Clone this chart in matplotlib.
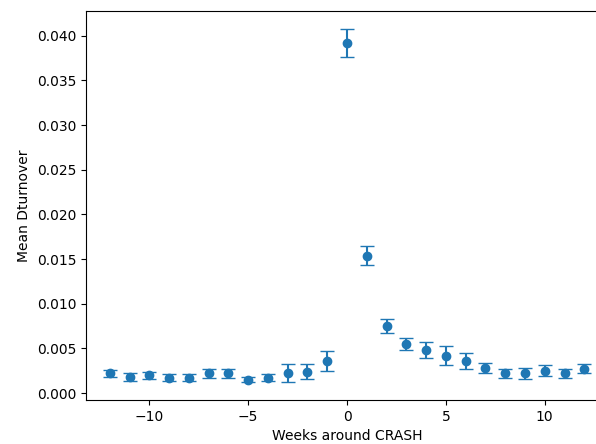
import matplotlib
matplotlib.use("Agg")
import matplotlib.pyplot as plt

weeks = list(range(-12, 13))
mean_dturnover = [0.0022, 0.0018, 0.0020, 0.0017, 0.0017, 0.0022, 0.0022, 0.0015, 0.0017,
                  0.0022, 0.0024, 0.0036, 0.0392, 0.0154, 0.0075, 0.0055, 0.0048, 0.0042,
                  0.0036, 0.0028, 0.0022, 0.0022, 0.0025, 0.0022, 0.0027]
errors = [0.0004, 0.0004, 0.0004, 0.0004, 0.0004, 0.0005, 0.0005, 0.0003, 0.0004,
          0.0010, 0.0008, 0.0011, 0.0016, 0.0011, 0.0008, 0.0007, 0.0009, 0.0011,
          0.0009, 0.0006, 0.0005, 0.0006, 0.0006, 0.0005, 0.0005]

fig = plt.figure(figsize=(5.96, 4.44), dpi=100)
ax = fig.add_axes([86/596, 44/444, 522/596, 389/444])
ax.errorbar(weeks, mean_dturnover, yerr=errors, fmt='o', capsize=5, color='#1f77b4')
ax.set_xlabel('Weeks around CRASH')
ax.set_ylabel('Mean Dturnover')
fig.savefig('out.png', dpi=100)
